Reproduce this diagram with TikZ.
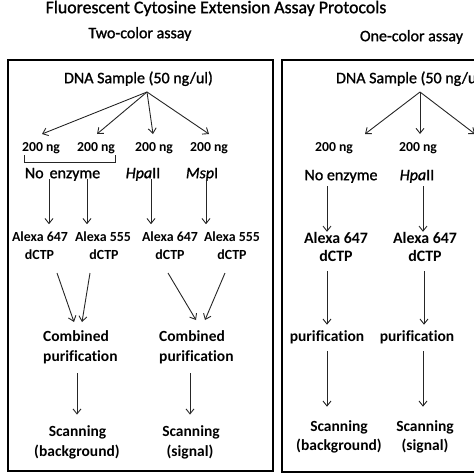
\documentclass[tikz,border=0pt]{standalone}
\usepackage{fontspec}
\setmainfont{Carlito}[Ligatures=CommonOff]
\newfontfamily\semib{Carlito}[FakeBold=1.2, Ligatures=CommonOff]
\usetikzlibrary{arrows.meta}
\begin{document}
\begin{tikzpicture}[x=1pt,y=-1pt,
  t/.style={inner sep=0pt, text height=0.64em, text depth=0pt},
  fr/.style={t, font=\fontsize{16}{19}\selectfont\semib},
  frs/.style={t, font=\fontsize{13.7}{17}\selectfont\bfseries},
  fa/.style={t, font=\fontsize{15.5}{19}\selectfont\bfseries},
  fal/.style={t, font=\fontsize{13.9}{17}\selectfont\bfseries},
  far/.style={t, font=\fontsize{15.9}{19}\selectfont\bfseries},
  arr/.style={-{Straight Barb[length=5pt,width=8pt,line width=0.9pt]}, line width=0.9pt, draw=black!85},
  frame/.style={line width=2pt}]
\useasboundingbox (0,0) rectangle (474,474);
\begin{scope}
\clip (0,0) rectangle (474,474);
% titles
\node[t, font=\fontsize{17.8}{21}\selectfont\semib] (title) at (216,10) {Fluorescent Cytosine Extension Assay Protocols};
\node[fr] (twoc) at (140,35) {Two-color assay};
\node[fr] (onec) at (411.5,38) {One-color assay};
% frames
\draw[frame] (8,60) rectangle (273,471);
\draw[frame] (282,60) rectangle (490,472);
% ===== left panel =====
\node[fr] (dnaL) at (138.5,80) {DNA Sample (50 ng/ul)};
\coordinate (apL) at (147,92);
\coordinate (tA) at (42,134);
\coordinate (tB) at (97,134);
\coordinate (tC) at (153,134);
\coordinate (tD) at (209,134);
\draw[arr] (apL) -- (tA);
\draw[arr] (apL) -- (tB);
\draw[arr] (apL) -- (tC);
\draw[arr] (apL) -- (tD);
\node[frs] (ngA) at (41,148) {200 ng};
\node[frs] (ngB) at (96,148) {200 ng};
\node[frs] (ngC) at (154,148) {200 ng};
\node[frs] (ngD) at (209,148) {200 ng};
\draw[line width=0.9pt, draw=black!85] (24,155) -- (24,162) -- (115,162) -- (115,155);
\node[fr] (neL) at (62.5,175) {No\hspace{6pt}enzyme};
\node[fr] (hpL) at (143,175) {\textit{Hpa}II};
\node[fr] (msL) at (202,175) {\textit{Msp}I};
\node[fal] (alA) at (40,238) {Alexa 647};
\node[fal] (dcA) at (39.5,256) {dCTP};
\node[fal] (alB) at (103,238) {Alexa 555};
\node[fal] (dcB) at (104,256) {dCTP};
\node[fal] (alC) at (170,238) {Alexa 647};
\node[fal] (dcC) at (170,256) {dCTP};
\node[fal] (alD) at (232,238) {Alexa 555};
\node[fal] (dcD) at (232,256) {dCTP};
\draw[arr, shorten <=1pt, shorten >=10.4pt] (neL.south -| 49,0) -- (alA.north -| 49,0);
\draw[arr, shorten <=1pt, shorten >=10.4pt] (neL.south -| 87,0) -- (alB.north -| 87,0);
\draw[arr, shorten <=1pt, shorten >=10.4pt] (hpL.south -| 151,0) -- (alC.north -| 151,0);
\draw[arr, shorten <=1pt, shorten >=10.4pt] (msL.south -| 206,0) -- (alD.north -| 206,0);
\coordinate (s1) at (57,273); \coordinate (e1) at (74,322);
\coordinate (s2) at (90,273); \coordinate (e2) at (82,322);
\coordinate (s3) at (168,273); \coordinate (e3) at (196,320);
\coordinate (s4) at (225,273); \coordinate (e4) at (205,320);
\draw[arr] (s1) -- (e1);
\draw[arr] (s2) -- (e2);
\draw[arr] (s3) -- (e3);
\draw[arr] (s4) -- (e4);
\node[fa, anchor=west] (cbL) at (43,338) {Combined};
\node[fa, anchor=west] (puL) at (43,358) {purification};
\node[fa, anchor=west] (cbR) at (159,338) {Combined};
\node[fa, anchor=west] (puR) at (159,358) {purification};
\node[fa] (scL) at (77.5,433) {Scanning};
\node[fa] (bgL) at (77,453) {(background)};
\node[fa] (scR) at (191,433) {Scanning};
\node[fa] (sgR) at (190,453) {(signal)};
\draw[arr, shorten <=12pt, shorten >=15pt] (puL.south -| 77,0) -- (scL.north -| 77,0);
\draw[arr, shorten <=12pt, shorten >=15pt] (puR.south -| 190,0) -- (scR.north -| 190,0);
% ===== right panel =====
\node[fr] (dnaR) at (410.5,80) {DNA Sample (50 ng/ul)};
\coordinate (apR) at (420,92);
\coordinate (tE) at (365,134);
\coordinate (tF) at (420,134);
\coordinate (tG) at (475,134);
\draw[arr] (apR) -- (tE);
\draw[arr] (apR) -- (tF);
\draw[arr] (apR) -- (tG);
\node[frs] (ngE) at (334,148) {200 ng};
\node[frs] (ngF) at (418,148) {200 ng};
\node[fr] (neR) at (341,177) {No enzyme};
\node[fr] (hpR) at (417,177) {\textit{Hpa}II};
\node[far] (alE) at (336,240) {Alexa 647};
\node[far] (dcE) at (336,258) {dCTP};
\node[far] (alF) at (425,240) {Alexa 647};
\node[far] (dcF) at (425,258) {dCTP};
\draw[arr, shorten <=6pt, shorten >=4.8pt] (neR.south -| 327,0) -- (alE.north -| 327,0);
\draw[arr, shorten <=6pt, shorten >=4.8pt] (hpR.south -| 423,0) -- (alF.north -| 423,0);
\node[fa] (puE) at (327,338) {purification};
\node[fa] (puF) at (417,338) {purification};
\draw[arr, shorten <=9.8pt, shorten >=9.9pt] (dcE.south -| 327,0) -- (puE.north -| 327,0);
\draw[arr, shorten <=9.8pt, shorten >=9.9pt] (dcF.south -| 424,0) -- (puF.north -| 424,0);
\node[fa] (scE) at (339,428) {Scanning};
\node[fa] (bgE) at (339,447) {(background)};
\node[fa] (scF) at (425,428) {Scanning};
\node[fa] (sgF) at (425,447) {(signal)};
\draw[arr, shorten <=9.9pt, shorten >=17.9pt] (puE.south -| 327,0) -- (scE.north -| 327,0);
\draw[arr, shorten <=9.9pt, shorten >=17.9pt] (puF.south -| 423,0) -- (scF.north -| 423,0);
\end{scope}
\end{tikzpicture}
\end{document}
